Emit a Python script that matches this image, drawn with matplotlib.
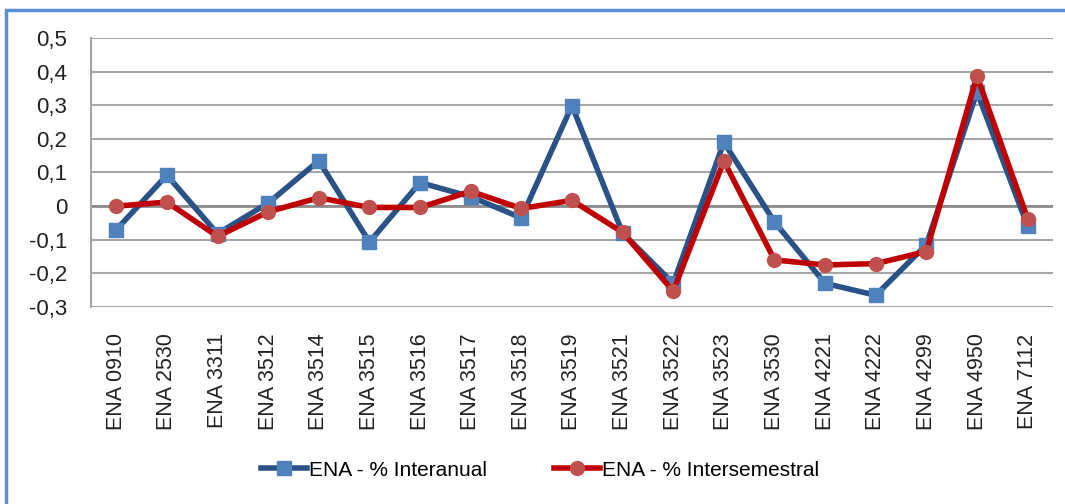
import matplotlib
matplotlib.use("Agg")

import matplotlib.pyplot as plt
from matplotlib.patches import Rectangle
from matplotlib.ticker import FuncFormatter

# Data
categories = ["ENA 0910", "ENA 2530", "ENA 3311", "ENA 3512", "ENA 3514", "ENA 3515",
              "ENA 3516", "ENA 3517", "ENA 3518", "ENA 3519", "ENA 3521", "ENA 3522",
              "ENA 3523", "ENA 3530", "ENA 4221", "ENA 4222", "ENA 4299", "ENA 4950",
              "ENA 7112"]
interanual = [-0.07, 0.092, -0.082, 0.009, 0.135, -0.107, 0.07, 0.028, -0.035, 0.299,
              -0.08, -0.23, 0.19, -0.047, -0.23, -0.265, -0.115, 0.34, -0.06]
intersemestral = [0.0, 0.012, -0.09, -0.017, 0.025, -0.004, -0.004, 0.044, -0.007, 0.017,
                  -0.078, -0.253, 0.134, -0.16, -0.175, -0.171, -0.135, 0.387, -0.037]
yticks = [-0.3, -0.2, -0.1, 0, 0.1, 0.2, 0.3, 0.4, 0.5]

plt.rcParams['font.family'] = ['Liberation Sans', 'DejaVu Sans']

fig = plt.figure(figsize=(10.65, 5.04), dpi=100)
ax = fig.add_axes([0.0854, 0.3909, 0.9033, 0.5337])

# Outer chart frame
fig.patches.append(Rectangle((6 / 1065, -0.1), 1.2, 1 - 10 / 504 + 0.1,
                             transform=fig.transFigure, fill=False,
                             edgecolor="#5B8FD6", linewidth=2.5, zorder=0))

x = list(range(len(categories)))
ax.plot(x, interanual, color="#2A5286", linewidth=4, marker="s", markersize=10,
        markerfacecolor="#4F81BD", markeredgecolor="#4F81BD", label="ENA - % Interanual",
        zorder=3)
ax.plot(x, intersemestral, color="#C00000", linewidth=4, marker="o", markersize=10,
        markerfacecolor="#C0504D", markeredgecolor="#C0504D", label="ENA - % Intersemestral",
        zorder=4)

ax.set_xlim(-0.5, len(categories) - 0.5)
ax.set_ylim(-0.3, 0.5)
ax.set_yticks(yticks)
ax.yaxis.set_major_formatter(FuncFormatter(lambda v, p: "0" if abs(v) < 1e-9 else f"{v:.1f}".replace(".", ",")))
ax.set_xticks(x)
ax.set_xticklabels(categories, rotation=90)
ax.tick_params(axis="y", length=0, pad=17, labelsize=16, colors="#222222")
ax.tick_params(axis="x", length=0, pad=19, labelsize=15.5, colors="#222222")

ax.grid(axis="y", color="#A6A6A6", linewidth=1.5)
ax.axhline(0, color="#8C8C8C", linewidth=2, zorder=2)
ax.set_axisbelow(True)
for side in ["top", "right", "bottom"]:
    ax.spines[side].set_visible(False)
ax.spines["left"].set_color("#A6A6A6")
ax.spines["left"].set_linewidth(1.5)

fig.legend(loc="center", bbox_to_anchor=(0.507, 0.067), ncol=2, frameon=False,
           fontsize=15, handlelength=2.2, columnspacing=3.2, handletextpad=0.1)

fig.savefig("out.png", dpi=100)
